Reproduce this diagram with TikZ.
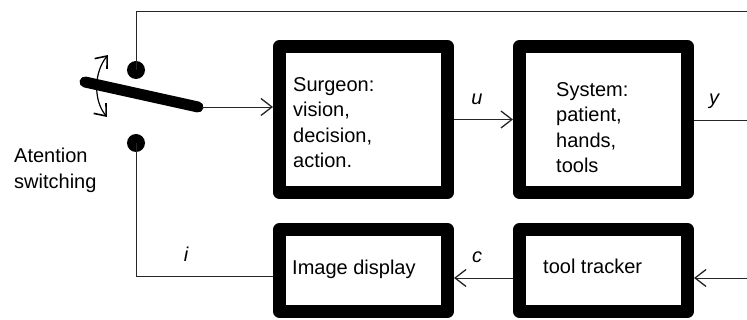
\documentclass[tikz,border=0pt]{standalone}
\usepackage{fontspec}
\setmainfont{Liberation Sans}
\usetikzlibrary{arrows.meta}
\begin{document}
\begin{tikzpicture}[x=1pt,y=-1pt,
  blockbox/.style={draw, line width=13pt, line join=round, minimum width=168pt, inner sep=0pt},
  txt/.style={inner sep=0pt, font=\fontsize{20}{25.5}\selectfont, align=left},
  lbl/.style={inner sep=0pt, font=\fontsize{20}{24}\selectfont\itshape},
  conn/.style={line width=0.9pt, black!85},
  arr/.style={conn, -{Straight Barb[length=11pt,width=17pt,line width=1.3pt]}},
  togtip/.tip={Straight Barb[length=10pt,width=16pt,line width=1.6pt]},
  dot/.style={circle, fill, inner sep=0pt, minimum size=18pt}]
\useasboundingbox (0,0) rectangle (747,320);

% blocks
\node[blockbox, minimum height=146pt] (surg) at (363.5,119.5) {};
\node[blockbox, minimum height=146pt] (sys)  at (603.5,119.5) {};
\node[blockbox, minimum height=82pt]  (img)  at (363.5,270.5) {};
\node[blockbox, minimum height=82pt]  (tt)   at (603.5,270.5) {};

% texts
\node[txt, anchor=north west] (surgt) at (293,77) {Surgeon:\\vision,\\decision,\\action.};
\node[txt, anchor=north west] (syst) at (556,82) {System:\\patient,\\hands,\\tools};
\node[txt, anchor=north west] (imgt) at (292,260) {Image display};
\node[txt, anchor=north west] (ttt) at (543,259) {tool tracker};
\node[txt, anchor=north west] (att) at (14,148) {Atention\\switching};

% labels
\node[lbl, anchor=base] (lu) at (477,105) {u};
\node[lbl, anchor=base] (ly) at (714,105) {y};
\node[lbl, anchor=base] (lc) at (477,263) {c};
\node[lbl, anchor=base] (li) at (186,262) {i};

% switch
\node[dot] (topdot) at (136,70) {};
\node[dot] (botdot) at (136,143) {};
\coordinate (swa) at (85,82);
\coordinate (swb) at (198,107);
\draw[line width=11pt, line cap=round] (swa) -- (swb);
\coordinate (swout) at (202,107);
\draw[arr] (swout) -- (swout -| surg.west);

% toggle arrow
\coordinate (ta) at (108,55);
\coordinate (tb) at (107,117);
\draw[line width=1.2pt, togtip-togtip]
  (ta) .. controls (94,72) and (93,100) .. (tb);

% top feedback line
\coordinate (topend) at (747,11);
\draw[conn] (topdot.center) |- (topend);

% u and y
\draw[arr] (surg.east) -- (sys.west);
\coordinate (yend) at (747,120);
\draw[conn] (sys.east |- yend) -- (yend);

% tracker feedback
\coordinate (ttin) at (747,278);
\draw[arr] (ttin) -- (ttin -| tt.east);
\draw[arr] (tt.west |- ttin) -- (img.east |- ttin);

% i line
\coordinate (iy) at (0,276);
\draw[conn] (botdot.center) |- (img.west |- iy);
\end{tikzpicture}
\end{document}
